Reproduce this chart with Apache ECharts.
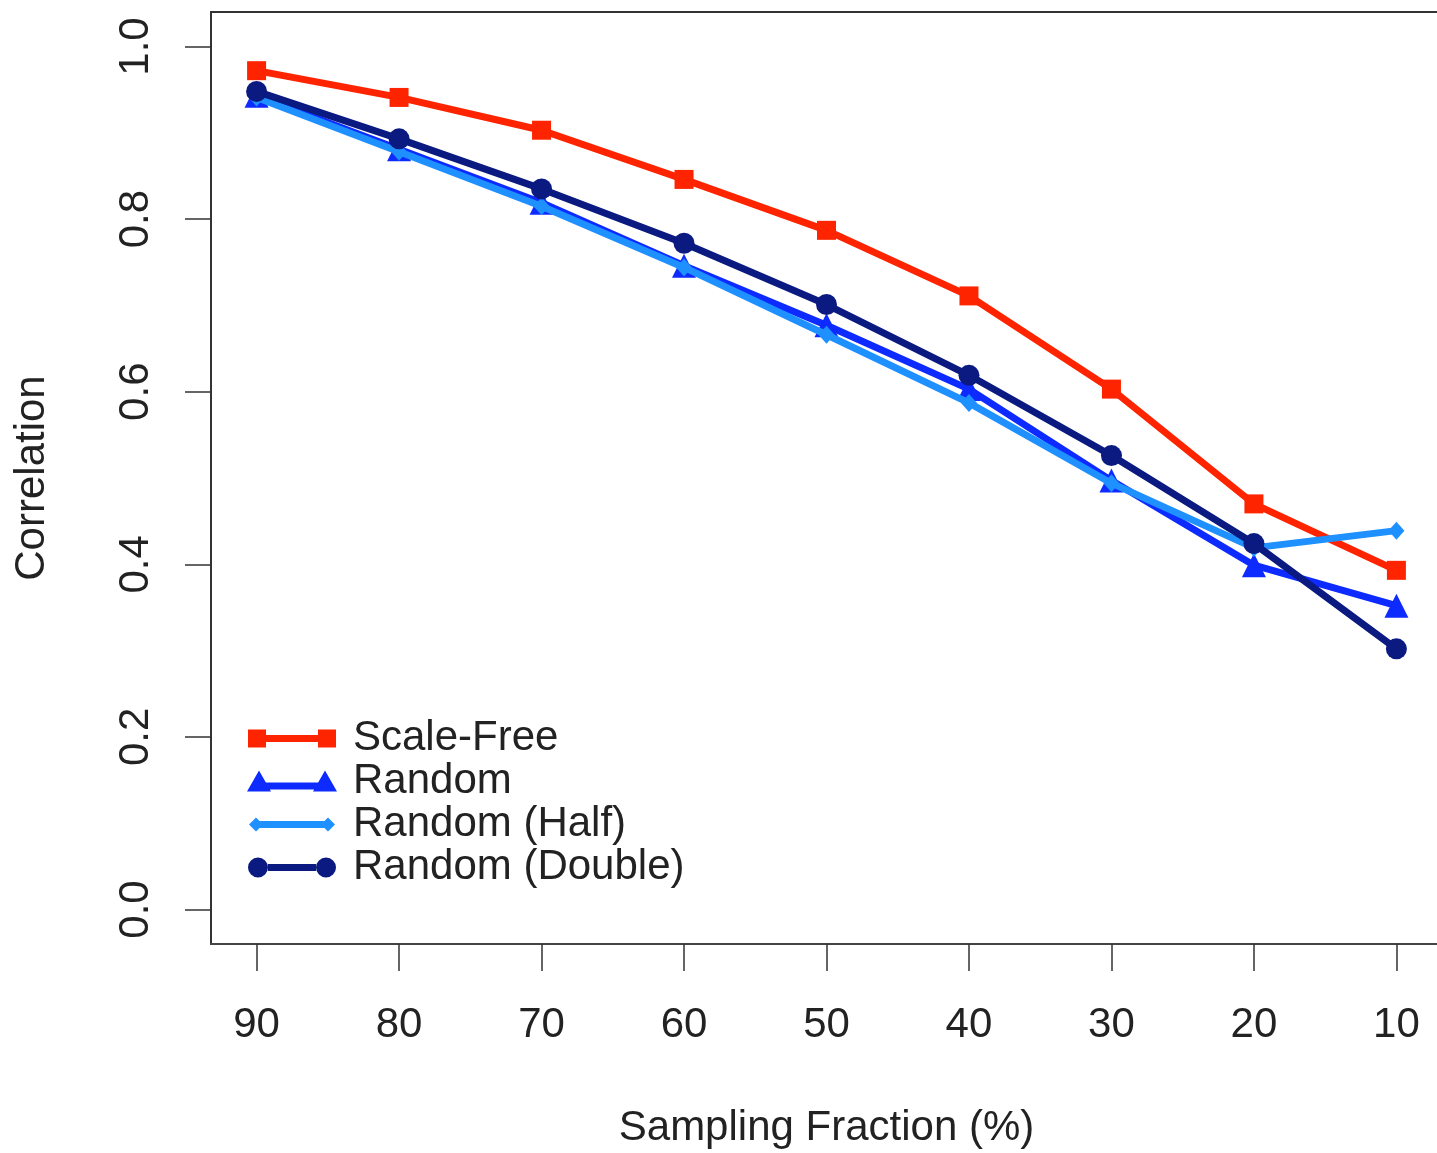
<!DOCTYPE html>
<html>
<head>
<meta charset="utf-8">
<script src="https://cdn.jsdelivr.net/npm/echarts@6/dist/echarts.min.js"></script>
<style>
  html, body { margin: 0; padding: 0; background: #fff; }
  #chart { width: 1437px; height: 1153px; }
</style>
</head>
<body>
<div id="chart"></div>
<script>
// sampling fraction (%), read left to right
var fractions = [90, 80, 70, 60, 50, 40, 30, 20, 10];
var yTicks = [0, 0.2, 0.4, 0.6, 0.8, 1.0];

var scaleFree = [0.972, 0.941, 0.903, 0.846, 0.787, 0.711, 0.603, 0.470, 0.393];
var random = [0.943, 0.881, 0.819, 0.746, 0.677, 0.603, 0.497, 0.399, 0.352];
var randomHalf = [0.941, 0.878, 0.815, 0.744, 0.666, 0.587, 0.494, 0.419, 0.439];
var randomDouble = [0.948, 0.893, 0.835, 0.772, 0.701, 0.619, 0.526, 0.424, 0.302];

var names = ["Scale-Free", "Random", "Random (Half)", "Random (Double)"];
var colors = ["#ff2400", "#0d2bff", "#1e90ff", "#0a1a80"];

// legend icons: line with a marker at both ends (R style)
var box = "M0,0 L0,0 M90,22 L90,22 ";
var icons = [
    box + "M1,2 H19 V20 H1 Z M19,7.5 H71 V14.5 H19 Z M71,2 H89 V20 H71 Z",
    box + "M0,21 L12,0 L24,21 Z M18,12 H72 V19 H18 Z M66,21 L78,0 L90,21 Z",
    box + "M2,11 L9,4 L16,11 L9,18 Z M12,7.5 H78 V14.5 H12 Z M74,11 L81,4 L88,11 L81,18 Z",
    box + "M1,11 A10,10 0 1 1 21,11 A10,10 0 1 1 1,11 Z M21,7.5 H69 V14.5 H21 Z M69,11 A10,10 0 1 1 89,11 A10,10 0 1 1 69,11 Z"
];

function pairs(vals) {
    return fractions.map(function (f, i) { return [f, vals[i]]; });
}

var font = "'Liberation Sans', Arial, Helvetica, sans-serif";
var myChart = echarts.init(document.getElementById("chart"));

var seriesVals = [scaleFree, random, randomHalf, randomDouble];
var symbols = ["rect", "triangle", "diamond", "circle"];
var symbolSizes = [19, 24, [16, 18], 21];

var series = seriesVals.map(function (vals, i) {
    return {
        name: names[i],
        type: "line",
        data: pairs(vals),
        symbol: symbols[i],
        symbolSize: symbolSizes[i],
        showAllSymbol: true,
        lineStyle: { color: colors[i], width: 7 },
        itemStyle: { color: colors[i], borderWidth: 0 },
        z: 2 + i,
        animation: false
    };
});

myChart.setOption({
    backgroundColor: "#fff",
    animation: false,
    grid: {
        left: 211,
        width: 1231,
        top: 12,
        height: 932,
        show: true,
        borderColor: "#333",
        borderWidth: 2,
        containLabel: false,
        outerBoundsMode: "none"
    },
    legend: {
        orient: "vertical",
        left: 242,
        top: 712,
        itemWidth: 90,
        itemHeight: 22,
        itemGap: 0,
        itemStyle: { borderWidth: 0 },
        textStyle: {
            fontSize: 42,
            lineHeight: 43,
            fontFamily: font,
            color: "#222",
            padding: [0, 0, 0, 11]
        },
        data: names.map(function (n, i) { return { name: n, icon: "path://" + icons[i] }; })
    },
    xAxis: {
        type: "value",
        inverse: true,
        min: 6.8,
        max: 93.2,
        name: "Sampling Fraction (%)",
        nameLocation: "middle",
        nameGap: 163,
        nameTextStyle: { fontSize: 42, fontFamily: font, color: "#222" },
        splitLine: { show: false },
        axisLine: { show: true, onZero: false, lineStyle: { color: "#444", width: 2 } },
        axisTick: {
            show: true,
            length: 27,
            customValues: fractions,
            lineStyle: { color: "#333", width: 1.5 }
        },
        axisLabel: {
            customValues: fractions,
            fontSize: 42,
            fontFamily: font,
            color: "#222",
            margin: 60
        }
    },
    yAxis: {
        type: "value",
        min: -0.04,
        max: 1.04,
        name: "Correlation",
        nameLocation: "middle",
        nameGap: 158,
        nameTextStyle: { fontSize: 42, fontFamily: font, color: "#222" },
        splitLine: { show: false },
        axisLine: { show: true, onZero: false, lineStyle: { color: "#333", width: 2 } },
        axisTick: {
            show: true,
            length: 26,
            customValues: yTicks,
            lineStyle: { color: "#333", width: 1.5 }
        },
        axisLabel: {
            customValues: yTicks,
            rotate: 90,
            fontSize: 42,
            fontFamily: font,
            color: "#222",
            margin: 54,
            formatter: function (v) { return v.toFixed(1); }
        }
    },
    series: series
});
</script>
</body>
</html>
